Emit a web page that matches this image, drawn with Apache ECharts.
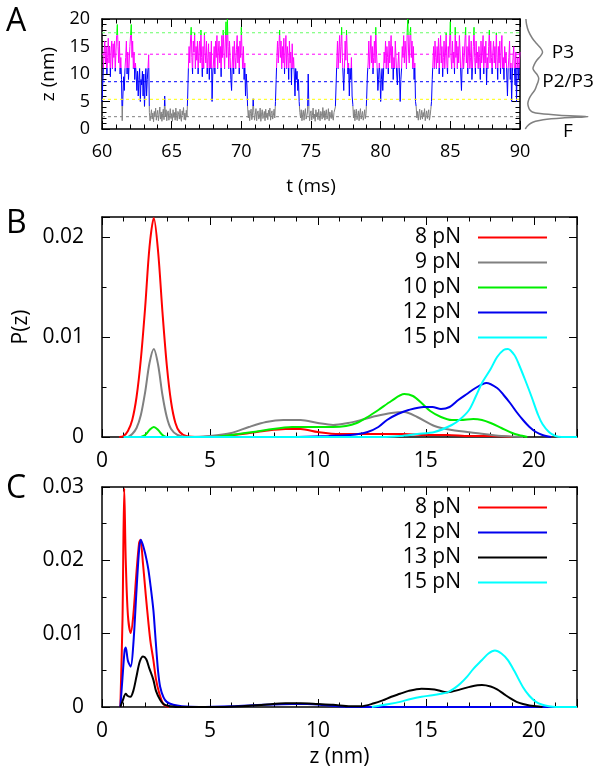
<!DOCTYPE html>
<html><head><meta charset="utf-8">
<script src="https://cdn.jsdelivr.net/npm/echarts@6/dist/echarts.min.js"></script>
<style>html,body{margin:0;padding:0;background:#fff}#c{width:601px;height:776px}</style>
</head><body><div id="c"></div>
<script>
const FONT = 'Open Sans';

// ---------- Panel A : time trace (t in ms, z in nm), sampled every 0.05 ms from 60 ms ----------
const traceStart = 60, traceStep = 0.05;
const traceZ = [
  5, 8, 11, 14, 16, 12, 15, 10, 13, 16.5, 12, 15, 9.5, 14, 16, 11, 15.5, 13, 16, 10.5,
  14, 17, 19, 15, 12, 16, 10, 13, 9, 1.5, 6, 9.5, 7, 11, 13, 16, 10, 14, 9, 12,
  15, 17, 19, 13, 16, 11, 14, 9, 12, 10, 7, 10.5, 6, 9, 11, 5, 9, 8, 10.5, 6,
  10, 4, 8, 11, 6, 9, 11, 13.5, 3, 1.5, 2.5, 3.5, 1.8, 2.9, 1.3, 3.2, 2.2, 3.8, 1.6, 2.7,
  3.4, 1.5, 2.6, 4.0, 1.8, 3.1, 1.4, 2.8, 3.6, 1.7, 6, 2.2, 3.5, 1.5, 2.9, 3.3, 1.6, 2.4, 3.7, 1.9,
  2.8, 1.4, 3.5, 2.1, 3.0, 1.6, 3.8, 2.4, 1.5, 3.2, 2.7, 1.8, 3.6, 2.0, 1.4, 3.3, 2.5, 3.9, 1.7, 2.9,
  1.6, 3.4, 2.2, 6, 11, 15, 12, 16, 18.5, 13, 10, 16, 14, 17.5, 11, 15, 12.5, 16, 10, 14,
  16, 12, 18, 13, 9.5, 15, 11, 17.5, 14, 12, 16, 10, 13, 15.5, 9, 14, 11, 16, 5, 10,
  12, 15, 10, 16, 13, 17, 11, 14, 16, 12, 15, 9.5, 17, 13, 18, 14, 11, 16, 19.5, 13,
  20, 15, 11, 16, 13, 9, 7, 12, 15, 10, 16, 13, 11, 14.5, 17, 12, 15, 10, 16, 13,
  18.5, 14, 11, 15, 9, 12, 6, 10, 8, 4, 2, 3.4, 1.5, 2.8, 3.6, 1.7, 2.4, 5.5, 3.0, 1.6,
  2.6, 3.7, 1.5, 2.9, 3.3, 1.8, 2.2, 3.8, 1.4, 2.7, 3.5, 1.9, 2.5, 3.2, 1.5, 3.6, 2.1, 2.9, 1.7, 3.4,
  2.3, 3.8, 1.6, 2.8, 3.3, 1.8, 2.5, 3.6, 2.0, 5, 9, 13, 16, 12, 15, 18, 13, 16, 11, 15,
  12, 16.5, 10, 14, 17, 11, 15, 13, 9, 16, 12, 14, 8, 15.5, 11, 13, 10, 6, 11, 9,
  10.5, 7, 9, 5, 3, 2, 3.5, 1.5, 2.7, 3.4, 1.6, 2.9, 3.7, 1.8, 2.4, 3.1, 10, 3.5, 1.5, 2.8,
  3.3, 1.6, 2.5, 3.8, 1.9, 2.7, 1.4, 3.5, 2.2, 3.0, 1.7, 3.6, 2.4, 1.5, 3.2, 2.8, 1.8, 3.9, 2.1, 3.3,
  1.6, 2.9, 3.5, 1.8, 2.4, 3.7, 1.5, 3.1, 2.6, 1.9, 3.4, 2.2, 1.6, 3.0, 2.7, 4, 8, 12, 16, 11,
  14, 17, 12, 15, 18.5, 13, 10, 7, 11, 16, 12.5, 18, 14, 10, 12, 6, 11, 9, 13, 6,
  4.5, 2, 3.5, 1.5, 2.8, 3.6, 1.7, 2.4, 3.3, 1.5, 2.9, 3.7, 1.8, 2.6, 3.2, 1.6, 2.3, 3.5, 1.9, 2.8,
  6, 10, 12, 16, 11, 14, 17, 12, 15, 10, 13, 16, 12, 18.5, 14, 11, 7, 9, 12, 10,
  5, 9, 11, 7, 10, 14, 12, 16, 11, 15, 13, 10, 16, 12, 14, 17, 11, 15, 9, 13,
  11, 16, 13, 10, 8, 12, 14, 10, 5, 9, 11, 15, 13, 17, 12, 16, 14, 11, 17.5, 20,
  14, 12, 17, 18.5, 13, 16, 11, 15, 9, 12, 5, 4, 2, 3.2, 1.6, 2.8, 3.6, 1.7, 2.5, 3.4,
  1.8, 3.0, 2.2, 3.7, 1.5, 2.6, 3.3, 1.9, 2.8, 3.5, 1.6, 2.4, 3.6, 5, 9, 12, 15, 11, 16, 13,
  11, 15, 12, 16.5, 10, 14, 17, 12, 15, 9.5, 13, 16, 11, 14, 17.5, 12, 10, 15, 13, 16,
  19.5, 13, 11, 16, 12, 14, 10, 18.5, 13, 16, 11, 15, 12, 17, 14, 10, 7, 12, 15, 11,
  13, 16, 18.5, 12, 15, 10, 14, 17, 11, 13, 16, 9, 12, 15, 18.5, 13, 10, 16, 12, 14,
  11, 15, 13, 9, 16, 12, 14, 17, 10, 15, 12, 16, 8, 13, 11, 15, 18, 12, 16, 13,
  10, 14, 16, 12, 15, 11, 17.5, 13, 9, 15, 12, 16, 10, 14, 17, 11, 13, 9, 15, 12,
  14, 10, 6, 11, 13, 16, 9, 12, 5, 10, 13, 15, 11, 8, 14, 5, 11, 13, 9, 12,
  14
];
const stateBounds = [4.2, 11, 17];                       // z thresholds between colour bands
const stateColors = ['#808080', '#0000ff', '#ff00ff', '#00ff00'];
const levelValues = [17.5, 13.6, 8.6, 5.4, 2.24];          // dashed reference levels
const levelColors = ['#66ff66', '#ff00ff', '#0000ff', '#ffff00', '#808080'];
// side histogram of z (relative probability)
const histZ = [0, 0.5, 1.0, 1.4, 1.7, 2.0, 2.24, 2.5, 2.8, 3.1, 3.5, 4.0, 4.7, 5.5, 6.3, 7.1, 8.0, 8.6, 9.2, 9.8, 10.4, 11.0, 11.7, 12.5, 13.3, 14.0, 14.7, 15.5, 16.5, 17.8, 19.0, 20.0];
const histP = [0.02, 0.05, 0.1, 0.18, 0.3, 0.6, 1.0, 0.55, 0.25, 0.13, 0.09, 0.07, 0.06, 0.08, 0.12, 0.17, 0.2, 0.22, 0.23, 0.21, 0.17, 0.14, 0.16, 0.2, 0.26, 0.29, 0.26, 0.2, 0.13, 0.07, 0.04, 0.03];
const histLabels = ['P3', 'P2/P3', 'F'];

// ---------- Panel B ----------
const namesB = ['8 pN', '9 pN', '10 pN', '12 pN', '15 pN'];
const colorsB = ['#ff0000', '#808080', '#00ee00', '#0000ee', '#00ffff'];
const b8 = [[0.8,0],[1.0,0.0001],[1.2,0.0006],[1.4,0.0017],[1.6,0.004],[1.8,0.0078],[2.0,0.013],[2.2,0.019],[2.4,0.0219],[2.6,0.0185],[2.8,0.0125],[3.0,0.0072],[3.2,0.0035],[3.4,0.0014],[3.6,0.0005],[3.9,0.0001],[4.5,0],[5.5,0.0001],[6.5,0.0003],[7.5,0.0006],[8.5,0.0008],[9.2,0.0008],[10,0.0005],[11,0.0003],[12,0.0003],[13,0.0003],[14,0.0003],[15,0.0002],[16,0.0002],[17,0.0001],[18,0.0001],[19,0]];
const b9 = [[1.2,0],[1.4,0.0003],[1.6,0.0009],[1.8,0.0022],[2.0,0.0045],[2.2,0.0074],[2.4,0.0088],[2.6,0.0072],[2.8,0.0042],[3.0,0.002],[3.2,0.0008],[3.5,0.0002],[4,0],[5,0.0001],[6,0.0004],[6.8,0.001],[7.6,0.0015],[8.4,0.0017],[9.2,0.0017],[10,0.0014],[10.7,0.0012],[11.4,0.0014],[12,0.0017],[12.7,0.0021],[13.4,0.0024],[14,0.0025],[14.6,0.002],[15.4,0.0011],[16.2,0.0007],[17.3,0.0004],[18.5,0.0001],[19.5,0]];
const b10 = [[1.8,0],[2.0,0.0002],[2.2,0.0007],[2.4,0.001],[2.6,0.0007],[2.8,0.0002],[3.0,0],[5,0],[6,0.0002],[7,0.0005],[7.6,0.0007],[8.8,0.001],[9.5,0.001],[10.7,0.001],[11.3,0.0011],[11.8,0.0014],[12.3,0.002],[12.8,0.0027],[13.4,0.0036],[14.0,0.0043],[14.4,0.0041],[14.8,0.0034],[15.2,0.0026],[15.7,0.002],[16.2,0.0017],[16.6,0.0017],[17.2,0.0018],[17.6,0.0017],[18.0,0.0014],[18.5,0.0009],[19.0,0.0004],[19.3,0.0002],[19.7,0]];
const b12 = [[9,0],[10.5,0.0001],[11.5,0.0002],[12.3,0.0005],[12.8,0.001],[13.2,0.0017],[13.7,0.0023],[14.2,0.0027],[14.9,0.003],[15.3,0.003],[15.7,0.0028],[16.1,0.003],[16.5,0.0037],[16.9,0.0043],[17.3,0.0049],[17.8,0.0054],[18.3,0.0049],[18.6,0.0042],[18.9,0.0034],[19.2,0.0025],[19.5,0.0017],[19.8,0.001],[20.1,0.0005],[20.4,0.0002],[20.8,0]];
const b15 = [[1,0],[13,0],[13.8,0.0001],[14.6,0.0003],[15.4,0.0005],[16.2,0.0012],[16.6,0.0018],[17.0,0.0027],[17.3,0.004],[17.6,0.0054],[18.0,0.0068],[18.3,0.008],[18.6,0.0087],[18.8,0.0088],[19.1,0.0082],[19.3,0.0073],[19.6,0.0057],[19.9,0.004],[20.2,0.0022],[20.4,0.0013],[20.7,0.0005],[21.0,0.0001],[21.3,0],[22,0]];

// ---------- Panel C ----------
const namesC = ['8 pN', '12 pN', '13 pN', '15 pN'];
const colorsC = ['#ff0000', '#0000ee', '#000000', '#00ffff'];
const c8 = [[0.85,0],[0.95,0.012],[1.03,0.0298],[1.1,0.02],[1.2,0.0125],[1.33,0.0101],[1.45,0.0125],[1.6,0.0185],[1.72,0.0224],[1.78,0.0228],[1.9,0.0195],[2.02,0.0155],[2.15,0.0115],[2.25,0.0088],[2.38,0.0064],[2.5,0.0038],[2.65,0.0019],[2.84,0.0004],[3.1,0]];
const c12 = [[0.85,0],[0.95,0.004],[1.05,0.0078],[1.1,0.0081],[1.2,0.0063],[1.33,0.0055],[1.45,0.0085],[1.6,0.016],[1.72,0.0215],[1.8,0.0228],[1.95,0.0215],[2.07,0.02],[2.15,0.0187],[2.25,0.0165],[2.38,0.0132],[2.45,0.0105],[2.53,0.0073],[2.6,0.0048],[2.69,0.0028],[2.85,0.0013],[3.0,0.0007],[3.3,0.0003],[3.7,0.0001],[4.5,0],[6,0.0001],[7.5,0.0003],[8.8,0.0004],[9.5,0.0004],[10.5,0.0002],[11.5,0],[22,0]];
const c13 = [[0.85,0],[0.95,0.0008],[1.1,0.0018],[1.2,0.0015],[1.32,0.0014],[1.45,0.0022],[1.6,0.0042],[1.75,0.0062],[1.9,0.0069],[2.05,0.0065],[2.2,0.0052],[2.38,0.0037],[2.5,0.0022],[2.69,0.001],[2.85,0.0004],[3.0,0.0002],[3.5,0],[5.5,0],[6.5,0.0001],[7.5,0.0003],[8.5,0.0005],[9.2,0.0005],[10,0.0004],[10.7,0.0003],[11.5,0.0001],[12.0,0.0001],[12.6,0.0005],[13.0,0.0009],[13.4,0.0014],[13.8,0.0018],[14.2,0.0022],[14.8,0.0025],[15.4,0.0024],[16.0,0.002],[16.6,0.0024],[17.1,0.0028],[17.6,0.003],[18.0,0.0028],[18.3,0.0024],[18.6,0.0018],[18.9,0.0012],[19.2,0.0007],[19.5,0.0004],[19.8,0.0002],[20.1,0.0001],[20.4,0]];
const c15 = [[12.5,0],[12.7,0.0001],[13.3,0.0004],[13.8,0.0007],[14.3,0.0011],[14.8,0.0014],[15.3,0.0016],[15.7,0.0018],[16.0,0.002],[16.3,0.0025],[16.6,0.0032],[16.9,0.0041],[17.2,0.0052],[17.6,0.0064],[17.9,0.0073],[18.2,0.0077],[18.5,0.0073],[18.8,0.0064],[19.1,0.0049],[19.5,0.0027],[19.8,0.0015],[20.1,0.0007],[20.4,0.0003],[20.7,0.0001],[21.0,0],[22,0]];

// ---------- axis ranges / ticks ----------
const axA = { x: {min: 60, max: 90, major: 5, minor: 1, labelStep: 5}, y: {min: 0, max: 20, major: 5, minor: 1, labelStep: 5} };
const axB = { x: {min: 0, max: 22, major: 5, minor: 1, labelStep: 5}, y: {min: 0, max: 0.022, major: 0.01, minor: 0.005, labelStep: 0.01} };
const axC = { x: {min: 0, max: 22, major: 5, minor: 1, labelStep: 5}, y: {min: 0, max: 0.03, major: 0.01, minor: 0.005, labelStep: 0.01} };

const xAxes = [], yAxes = [];
function isStep(v, s) { const r = v / s; return Math.abs(r - Math.round(r)) < 1e-6; }
function makeAxis(grid, pos, cfg, major, lab) {
  const a = {
    type: 'value', gridIndex: grid, position: pos, min: cfg.min, max: cfg.max,
    interval: major ? cfg.major : cfg.minor,
    axisLine: {show: major, onZero: false, lineStyle: {color: '#000', width: 1.5}},
    axisTick: {show: true, inside: true, length: major ? 8 : 4.5, lineStyle: {color: '#000', width: 1}},
    axisLabel: {show: false},
    splitLine: {show: false}
  };
  if (lab) {
    a.axisLabel = {show: true, color: '#000', fontFamily: FONT, fontSize: lab.fontSize, margin: lab.margin,
      formatter: v => isStep(v, cfg.labelStep) ? String(+v.toFixed(4)) : ''};
    if (lab.name) {
      a.name = lab.name; a.nameLocation = 'middle'; a.nameGap = lab.nameGap;
      a.nameTextStyle = {color: '#000', fontFamily: FONT, fontSize: lab.nameSize};
    }
  }
  return a;
}
function frame(grid, ax, xl, yl) {
  const ix = xAxes.length, iy = yAxes.length;
  xAxes.push(makeAxis(grid, 'bottom', ax.x, true, xl));
  xAxes.push(makeAxis(grid, 'bottom', ax.x, false));
  xAxes.push(makeAxis(grid, 'top', ax.x, true));
  xAxes.push(makeAxis(grid, 'top', ax.x, false));
  yAxes.push(makeAxis(grid, 'left', ax.y, true, yl));
  yAxes.push(makeAxis(grid, 'left', ax.y, false));
  yAxes.push(makeAxis(grid, 'right', ax.y, true));
  yAxes.push(makeAxis(grid, 'right', ax.y, false));
  return [ix, iy];
}

const grids = [
  {left: 102, top: 19, width: 418, height: 110},
  {left: 524, top: 19, width: 68, height: 110},
  {left: 102, top: 217, width: 475, height: 220},
  {left: 102, top: 487, width: 475, height: 220}
];

const [axX, axY] = frame(0, axA, {fontSize: 18, margin: 14, name: 't (ms)', nameGap: 48, nameSize: 19},
                                 {fontSize: 18, margin: 12, name: 'z (nm)', nameGap: 44, nameSize: 19});
const hX = xAxes.length, hY = yAxes.length;
xAxes.push({type: 'value', gridIndex: 1, min: 0, max: 1.0625, show: false});
yAxes.push({type: 'value', gridIndex: 1, min: 0, max: 20, show: false});
const [bX, bY] = frame(2, axB, {fontSize: 21, margin: 14},
                               {fontSize: 21, margin: 18, name: 'P(z)', nameGap: 70, nameSize: 21});
const [cX, cY] = frame(3, axC, {fontSize: 21, margin: 14, name: 'z (nm)', nameGap: 40, nameSize: 21},
                               {fontSize: 21, margin: 18});

const series = [];
series.push({
  type: 'line', name: 'trace', xAxisIndex: axX, yAxisIndex: axY, symbol: 'none',
  lineStyle: {width: 1}, z: 2, silent: true,
  data: traceZ.map((z, i) => [+(traceStart + i * traceStep).toFixed(3), z])
});
levelValues.forEach((v, i) => series.push({
  type: 'line', name: 'level' + i, xAxisIndex: axX, yAxisIndex: axY, symbol: 'none', silent: true, z: 3,
  lineStyle: {width: 1, type: [3, 3], color: levelColors[i]},
  data: [[axA.x.min, v], [axA.x.max, v]]
}));
series.push({
  type: 'line', name: 'hist', xAxisIndex: hX, yAxisIndex: hY, symbol: 'none', smooth: 0.35, silent: true,
  lineStyle: {width: 1.5, color: '#808080'},
  data: histZ.map((z, i) => [histP[i], z])
});
[b8, b9, b10, b12, b15].forEach((d, i) => series.push({
  type: 'line', name: namesB[i], xAxisIndex: bX, yAxisIndex: bY, symbol: 'none', smooth: 0.3,
  color: colorsB[i], lineStyle: {width: 2, color: colorsB[i]}, data: d
}));
[c8, c12, c13, c15].forEach((d, i) => series.push({
  type: 'line', name: namesC[i], xAxisIndex: cX, yAxisIndex: cY, symbol: 'none', smooth: 0.3,
  color: colorsC[i], lineStyle: {width: 2, color: colorsC[i]}, data: d
}));

const legendCommon = {
  orient: 'vertical', align: 'right', right: 54, padding: 0, itemWidth: 69, itemHeight: 2, itemGap: 0,
  icon: 'rect', selectedMode: false,
  textStyle: {fontFamily: FONT, fontSize: 21, color: '#000', lineHeight: 25, padding: [0, 12, 0, 0]}
};

const letter = (t, x, y) => ({type: 'text', x: x, y: y, silent: true,
  style: {text: t, fill: '#000', font: '32px "Open Sans"', textAlign: 'left', textVerticalAlign: 'middle'}});
const note = (t, x, y) => ({type: 'text', x: x, y: y, silent: true,
  style: {text: t, fill: '#000', font: '19px "Open Sans"', textAlign: 'center', textVerticalAlign: 'middle'}});

const chart = echarts.init(document.getElementById('c'), null, {renderer: 'canvas'});
chart.setOption({
  animation: false,
  backgroundColor: '#fff',
  grid: grids,
  xAxis: xAxes,
  yAxis: yAxes,
  visualMap: {
    type: 'piecewise', show: false, seriesIndex: 0, dimension: 1,
    pieces: [
      {lt: stateBounds[0], color: stateColors[0]},
      {gte: stateBounds[0], lt: stateBounds[1], color: stateColors[1]},
      {gte: stateBounds[1], lt: stateBounds[2], color: stateColors[2]},
      {gte: stateBounds[2], color: stateColors[3]}
    ]
  },
  legend: [
    Object.assign({}, legendCommon, {data: namesB, top: 225}),
    Object.assign({}, legendCommon, {data: namesC, top: 495})
  ],
  graphic: [
    letter('A', 6, 22), letter('B', 6, 224), letter('C', 6, 489),
    note(histLabels[0], 563, 53), note(histLabels[1], 568, 82), note(histLabels[2], 568, 132)
  ],
  series: series
});
</script></body></html>
